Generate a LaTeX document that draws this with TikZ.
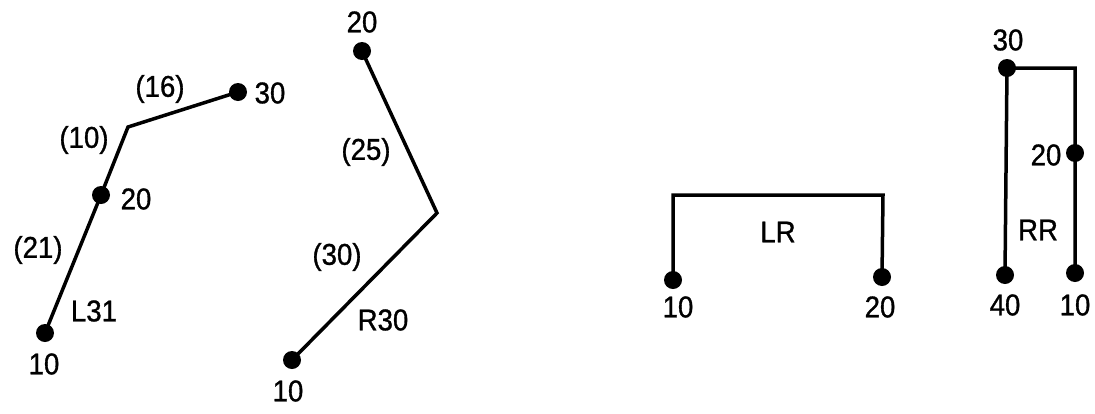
\documentclass[tikz,border=0pt]{standalone}
\usepackage{fontspec}
\setmainfont{Liberation Sans}[FakeStretch=0.92,FakeBold=1]
\begin{document}
\begin{tikzpicture}[x=1pt,y=-1pt,
  dot/.style={circle,fill=black,inner sep=0pt,minimum size=18pt},
  wire/.style={line width=3.5pt,line join=miter},
  lbl/.style={inner sep=0pt,font=\fontsize{30}{32}\selectfont}]
\useasboundingbox[fill=white] (0,0) rectangle (1095,413);
% L31
\node[dot] (a10) at (45,333) {};
\node[dot] (a20) at (101,195) {};
\coordinate (ab) at (128,127);
\node[dot] (a30) at (238,92) {};
\draw[wire] (a10.center) -- (a20.center) -- (ab) -- (a30.center);
\node[lbl] (t1) at (44,364) {10};
\node[lbl] (t2) at (136,199) {20};
\node[lbl] (t3) at (270,93) {30};
\node[lbl] (t4) at (84,140) {(10)};
\node[lbl] (t5) at (160,89) {(16)};
\node[lbl] (t6) at (38,250) {(21)};
\node[lbl] (t7) at (94,311) {L31};
% R30
\node[dot] (b20) at (362,51) {};
\coordinate (bb) at (437,213);
\node[dot] (b10) at (292,360) {};
\draw[wire] (b20.center) -- (bb) -- (b10.center);
\node[lbl] (u1) at (362,22) {20};
\node[lbl] (u2) at (366,152) {(25)};
\node[lbl] (u3) at (337,257) {(30)};
\node[lbl] (u4) at (383,320) {R30};
\node[lbl] (u5) at (288,391) {10};
% LR
\node[dot] (c10) at (673,280) {};
\node[dot] (c20) at (882,277) {};
\coordinate (cl) at (673,195);
\coordinate (cr) at (883,195);
\draw[wire] (c10.center) -- (cl) -- (cr) -- (c20.center);
\node[lbl] (v1) at (778,232) {LR};
\node[lbl] (v2) at (678,307) {10};
\node[lbl] (v3) at (880,307) {20};
% RR
\node[dot] (d30) at (1007,68) {};
\node[dot] (d40) at (1005,275) {};
\node[dot] (d20) at (1075,153) {};
\node[dot] (d10) at (1075,273) {};
\coordinate (dr) at (1075,68);
\draw[wire] (d40.center) -- (d30.center) -- (dr) -- (d20.center) -- (d10.center);
\node[lbl] (w1) at (1008,40) {30};
\node[lbl] (w2) at (1046,155) {20};
\node[lbl] (w3) at (1038,230) {RR};
\node[lbl] (w4) at (1005,305) {40};
\node[lbl] (w5) at (1075,305) {10};
\end{tikzpicture}
\end{document}
